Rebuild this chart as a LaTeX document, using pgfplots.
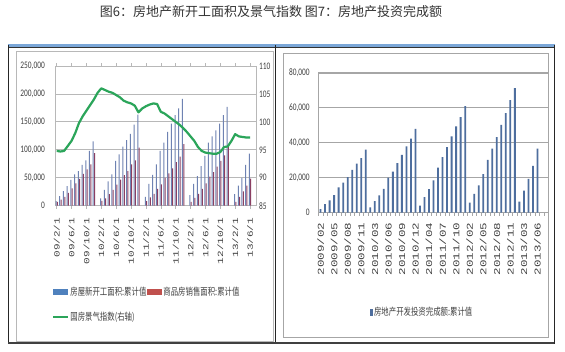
\documentclass[border=0pt]{standalone}
\usepackage{fontspec}
\setmainfont{Carlito}
\newfontfamily\cjk{Noto Sans CJK SC}
\newfontfamily\mono{Liberation Mono}
\usepackage{graphicx}
\usepackage{pgfplots}
\pgfplotsset{compat=1.18}
\definecolor{bbar}{HTML}{6E82B2}
\definecolor{rbar}{HTML}{8A3F62}
\definecolor{bleg}{HTML}{4F81BD}
\definecolor{rleg}{HTML}{C0504D}
\definecolor{gline}{HTML}{2BA55A}
\definecolor{gridc}{HTML}{B8B8B8}
\definecolor{gridd}{HTML}{A6A6A6}
\definecolor{txt}{HTML}{404040}
\definecolor{ibar}{HTML}{4E6E9E}
\definecolor{topblue}{HTML}{7BA7D8}
\newcommand\sx[1]{\scalebox{0.74}[1]{#1}}
\newcommand\rl[1]{\scalebox{1}[0.72]{#1}}
\begin{document}
\begin{tikzpicture}
\useasboundingbox (0,0) rectangle (565pt,351pt);
\fill[white] (0,0) rectangle (565pt,351pt);
% panel frames
\draw[gridc, line width=0.6pt] (16pt,10pt) rectangle (273pt,300pt);
\draw[gridd, line width=0.6pt] (283pt,14pt) rectangle (548pt,298pt);
\draw[topblue, line width=2.5pt] (8pt,305.5pt) -- (555pt,305.5pt);
\draw[black!80, line width=0.8pt] (8pt,303.6pt) -- (555pt,303.6pt);
\draw[black!85, line width=0.9pt] (8pt,306pt) -- (8pt,7pt);
\draw[black!85, line width=0.9pt] (275pt,306pt) -- (275pt,7pt);
\draw[black!85, line width=0.9pt] (554pt,306pt) -- (554pt,7pt);
\draw[black!75, line width=1.4pt] (8pt,8pt) -- (554pt,8pt);
% title
\node[font=\fontsize{13}{15}\cjk, text=black!80] at (271pt,339.5pt) {图6：房地产新开工面积及景气指数 图7：房地产投资完成额};

% ---------------- left chart ----------------
\begin{axis}[
  at={(55pt,145.3pt)}, anchor=south west, scale only axis,
  width=201pt, height=139.7pt,
  xmin=-0.45, xmax=53.6, ymin=0, ymax=250000,
  axis line style={draw=gridc, line width=0.8pt},
  ytick={0,50000,100000,150000,200000,250000},
  yticklabels={\sx{0},{\sx{50,000}},{\sx{100,000}},{\sx{150,000}},{\sx{200,000}},{\sx{250,000}}},
  ymajorgrids, grid style={draw=gridc, line width=0.8pt},
  xtick={0,4,...,52},
  xticklabels={\rl{09/2/1},\rl{09/6/1},\rl{09/10/1},\rl{10/2/1},\rl{10/6/1},\rl{10/10/1},\rl{11/2/1},\rl{11/6/1},\rl{11/10/1},\rl{12/2/1},\rl{12/6/1},\rl{12/10/1},\rl{13/2/1},\rl{13/6/1}},
  tick align=outside, major tick length=3pt,
  xtick style={draw=gridc, line width=0.6pt}, ytick style={draw=none},
  xticklabel style={rotate=90, anchor=east, font=\fontsize{11}{12}\mono, text=txt, inner sep=0pt},
  xticklabel shift=9pt,
  yticklabel style={font=\fontsize{10}{12}\selectfont, text=txt, inner sep=0pt, anchor=east},
  yticklabel shift=7pt,
  scaled y ticks=false,
  legend columns=2, legend cell align=left,
  legend style={at={(-0.015,-0.575)}, anchor=north west, draw=none, fill=none,
    font=\fontsize{10}{12}\cjk, text=txt, row sep=13pt, inner sep=0pt,
    nodes={inner sep=1pt}},
]
\addplot[ybar, bar width=1.0pt, bar shift=-0.65pt, fill=bbar, draw=none,
  legend image code/.code={\fill[bleg] (0pt,-3pt) rectangle (15pt,3pt);}] coordinates {
(0,8000)(1,17000)(2,26000)(3,35000)(4,46000)(5,56000)(6,62000)(7,73000)(8,81000)(9,98000)(10,115000)
(12,13000)(13,28500)(14,43500)(15,56000)(16,80000)(17,92000)(18,105500)(19,117500)(20,128500)(21,145000)(22,163000)
(24,16000)(25,39000)(26,55000)(27,74000)(28,98000)(29,113000)(30,132000)(31,147000)(32,162000)(33,174000)(34,191000)
(36,19000)(37,39000)(38,53000)(39,71000)(40,89000)(41,113000)(42,124000)(43,135000)(44,147000)(45,162000)(46,177000)
(48,20600)(49,36000)(50,50000)(51,73000)(52,93400)
};
\addlegendentry{\sx{房屋新开工面积:累计值}}
\addplot[ybar, bar width=1.0pt, bar shift=0.65pt, fill=rbar, draw=none,
  legend image code/.code={\fill[rleg] (0pt,-3pt) rectangle (15pt,3pt);}] coordinates {
(0,7000)(1,11000)(2,16000)(3,23000)(4,31000)(5,40000)(6,48000)(7,57000)(8,65000)(9,74000)(10,94000)
(12,8500)(13,13000)(14,20500)(15,28500)(16,37500)(17,46500)(18,54500)(19,62000)(20,74000)(21,81000)(22,104000)
(24,8000)(25,15000)(26,21000)(27,30000)(28,38000)(29,50000)(30,58000)(31,67000)(32,78000)(33,88000)(34,110000)
(36,7000)(37,14000)(38,21000)(39,30000)(40,40000)(41,52000)(42,60000)(43,70000)(44,80000)(45,90000)(46,106000)
(48,7000)(49,16000)(50,25500)(51,36000)(52,48500)
};
\addlegendentry{\sx{商品房销售面积:累计值}}
\addlegendimage{gline, line width=2.2pt, legend image code/.code={\draw[gline, line width=2.2pt] (0pt,0pt) -- (15pt,0pt);}}
\addlegendentry{\sx{国房景气指数(右轴)}}
\end{axis}
\begin{axis}[
  at={(55pt,145.3pt)}, anchor=south west, scale only axis,
  width=201pt, height=139.7pt,
  xmin=-0.45, xmax=53.6, ymin=85, ymax=110,
  axis y line*=right, axis x line=none,
  axis line style={draw=none},
  ytick={85,90,95,100,105,110},
  yticklabels={\sx{85},\sx{90},\sx{95},\sx{100},\sx{105},\sx{110}},
  ytick style={draw=none},
  yticklabel style={font=\fontsize{10}{12}\selectfont, text=txt, inner sep=0pt, anchor=west},
  yticklabel shift=3pt,
]
\addplot[gline, line width=2.2pt, line join=round, no markers] coordinates {
(0,94.8)(1,94.7)(2,94.8)(3,95.7)(4,96.6)(5,98.0)(6,99.8)(7,101.0)(8,102.0)(9,103.0)(10,104.0)
(11,105.2)(12,106.0)(13,105.7)(14,105.4)(15,105.2)(16,104.8)(17,104.4)(18,103.8)(19,103.5)(20,103.3)
(21,102.9)(22,101.7)(23,102.4)(24,102.8)(25,103.1)(26,103.3)(27,103.2)(28,101.8)(29,101.5)(30,101.0)
(31,100.5)(32,100.0)(33,99.5)(34,98.9)(35,98.2)(36,97.4)(37,96.6)(38,95.5)(39,94.8)(40,94.5)
(41,94.4)(42,94.3)(43,94.3)(44,94.6)(45,95.5)(46,95.6)(47,96.6)(48,97.8)(49,97.4)(50,97.3)(51,97.2)(52,97.2)
};
\end{axis}

% ---------------- right chart ----------------
\begin{axis}[
  at={(318.3pt,138.5pt)}, anchor=south west, scale only axis,
  width=230pt, height=139.5pt,
  xmin=-0.5, xmax=50.4, ymin=0, ymax=80000,
  axis x line*=bottom, axis y line*=left,
  axis line style={-, draw=gridd, line width=0.8pt},
  ytick={0,20000,40000,60000,80000},
  yticklabels={\sx{0},{\sx{20,000}},{\sx{40,000}},{\sx{60,000}},{\sx{80,000}}},
  ymajorgrids, grid style={draw=gridd, line width=1.1pt},
  xtick={0,3,...,48},
  xticklabels={\rl{2009/02},\rl{2009/05},\rl{2009/08},\rl{2009/11},\rl{2010/03},\rl{2010/06},\rl{2010/09},\rl{2010/12},\rl{2011/04},\rl{2011/07},\rl{2011/10},\rl{2012/02},\rl{2012/05},\rl{2012/08},\rl{2012/11},\rl{2013/03},\rl{2013/06}},
  minor xtick={-0.5,0.5,...,50.5},
  tick align=outside, major tick length=0pt, minor tick length=3pt,
  minor tick style={draw=gridd, line width=0.5pt}, ytick style={draw=none},
  xticklabel style={rotate=90, anchor=east, font=\fontsize{12.5}{14}\mono, text=txt, inner sep=0pt},
  xticklabel shift=10pt,
  yticklabel style={font=\fontsize{10}{12}\selectfont, text=txt, inner sep=0pt, anchor=east},
  yticklabel shift=8.5pt,
  scaled y ticks=false,
  legend style={at={(0.222,-0.67)}, anchor=north west, draw=none, fill=none,
    font=\fontsize{10}{12}\cjk, text=txt, inner sep=0pt, nodes={inner sep=1pt}},
]
\addplot[ybar, bar width=1.8pt, fill=ibar, draw=none,
  legend image code/.code={\fill[ibar] (0pt,-3.5pt) rectangle (3.5pt,3.5pt);}] coordinates {
(0,2000)(1,4800)(2,6900)(3,10000)(4,14400)(5,17200)(6,20300)(7,24500)(8,28000)(9,31200)(10,36000)
(11,3000)(12,6500)(13,9800)(14,13600)(15,20000)(16,23500)(17,28300)(18,33000)(19,37900)(20,42300)(21,48000)
(22,4000)(23,8800)(24,13400)(25,18400)(26,25800)(27,31800)(28,37500)(29,43600)(30,49400)(31,54700)(32,61000)
(33,5700)(34,10700)(35,15500)(36,22000)(37,30200)(38,36600)(39,43300)(40,50300)(41,57000)(42,64500)(43,71300)
(44,6300)(45,12600)(46,19300)(47,26800)(48,36600)
};
\addlegendentry{\sx{房地产开发投资完成额:累计值}}
\end{axis}
\end{tikzpicture}
\end{document}
